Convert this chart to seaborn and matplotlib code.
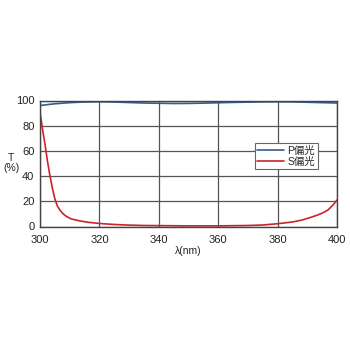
import matplotlib
matplotlib.use("Agg")
import matplotlib.pyplot as plt
import seaborn as sns
import pandas as pd

wl_p = [300, 302, 305, 310, 315, 320, 325, 330, 335, 340, 345, 350, 355, 360, 365, 370, 375, 380, 385, 390, 395, 400]
t_p = [96.0, 96.6, 97.4, 98.3, 98.8, 99.0, 98.8, 98.4, 98.0, 97.8, 97.6, 97.7, 97.9, 98.2, 98.5, 98.7, 98.9, 99.0, 98.9, 98.6, 98.3, 98.0]

wl_s = [300, 300.5, 301, 301.7, 302.5, 303.3, 304.2, 305, 305.8, 306.7, 307.8, 308.9, 310.5, 313.3, 316, 320, 325, 330, 335, 340, 350, 360, 370, 375, 380, 385, 388, 390, 392, 394, 395, 396, 397, 398, 399, 400]
t_s = [90, 83, 75, 65, 52, 41, 30, 22, 16.5, 13, 10, 8, 6, 4.5, 3.4, 2.4, 1.6, 1.1, 0.8, 0.7, 0.5, 0.5, 0.8, 1.2, 2.2, 3.6, 5.0, 6.4, 7.9, 9.6, 10.6, 11.8, 13.2, 15.5, 18.0, 21.0]

series_labels = ["P偏光", "S偏光"]
x_ticks = [300, 320, 340, 360, 380, 400]
y_ticks = [0, 20, 40, 60, 80, 100]

df = pd.concat([
    pd.DataFrame({"wl": wl_p, "T": t_p, "pol": series_labels[0]}),
    pd.DataFrame({"wl": wl_s, "T": t_s, "pol": series_labels[1]}),
])

sns.set_style("white")
plt.rcParams['font.family'] = ['Liberation Sans', 'Noto Sans CJK JP', 'DejaVu Sans']

fig = plt.figure(figsize=(3.5, 3.5), dpi=100)
ax = fig.add_axes([40/350, 1-226.5/350, 297/350, 126/350])

sns.lineplot(data=df, x="wl", y="T", hue="pol",
             palette={series_labels[0]: "#2f5f8f", series_labels[1]: "#c8242c"},
             linewidth=1.2, ax=ax, sort=True, estimator=None)

ax.set_xlim(300, 400)
ax.set_ylim(0, 100)
ax.set_xticks(x_ticks)
ax.set_yticks(y_ticks)
ax.grid(True, color="#555555", linewidth=0.9)
for s in ax.spines.values():
    s.set_color("#444444")
    s.set_linewidth(1.0)
ax.tick_params(axis="both", length=0, labelsize=8, colors="#222222")
ax.tick_params(axis="x", pad=6)
ax.tick_params(axis="y", pad=4)
ax.set_xlabel("λ(nm)", fontsize=7.5, labelpad=1, color="#222222")
ax.set_ylabel("")
fig.text(11/350, 1-163/350, "T\n(%)", fontsize=7.5, color="#222222", ha="center", va="center",
         linespacing=0.95)

leg = ax.legend(loc="upper left", bbox_to_anchor=(0.705, 0.705), frameon=True,
                fancybox=False, edgecolor="#666666", framealpha=1,
                handlelength=2.6, handletextpad=0.3, borderpad=0.25, labelspacing=0.1,
                prop={'family': ['Liberation Sans', 'Noto Sans CJK JP'], 'size': 7.5})
leg.get_frame().set_linewidth(0.8)

fig.savefig("out.png", dpi=100, facecolor="white")
